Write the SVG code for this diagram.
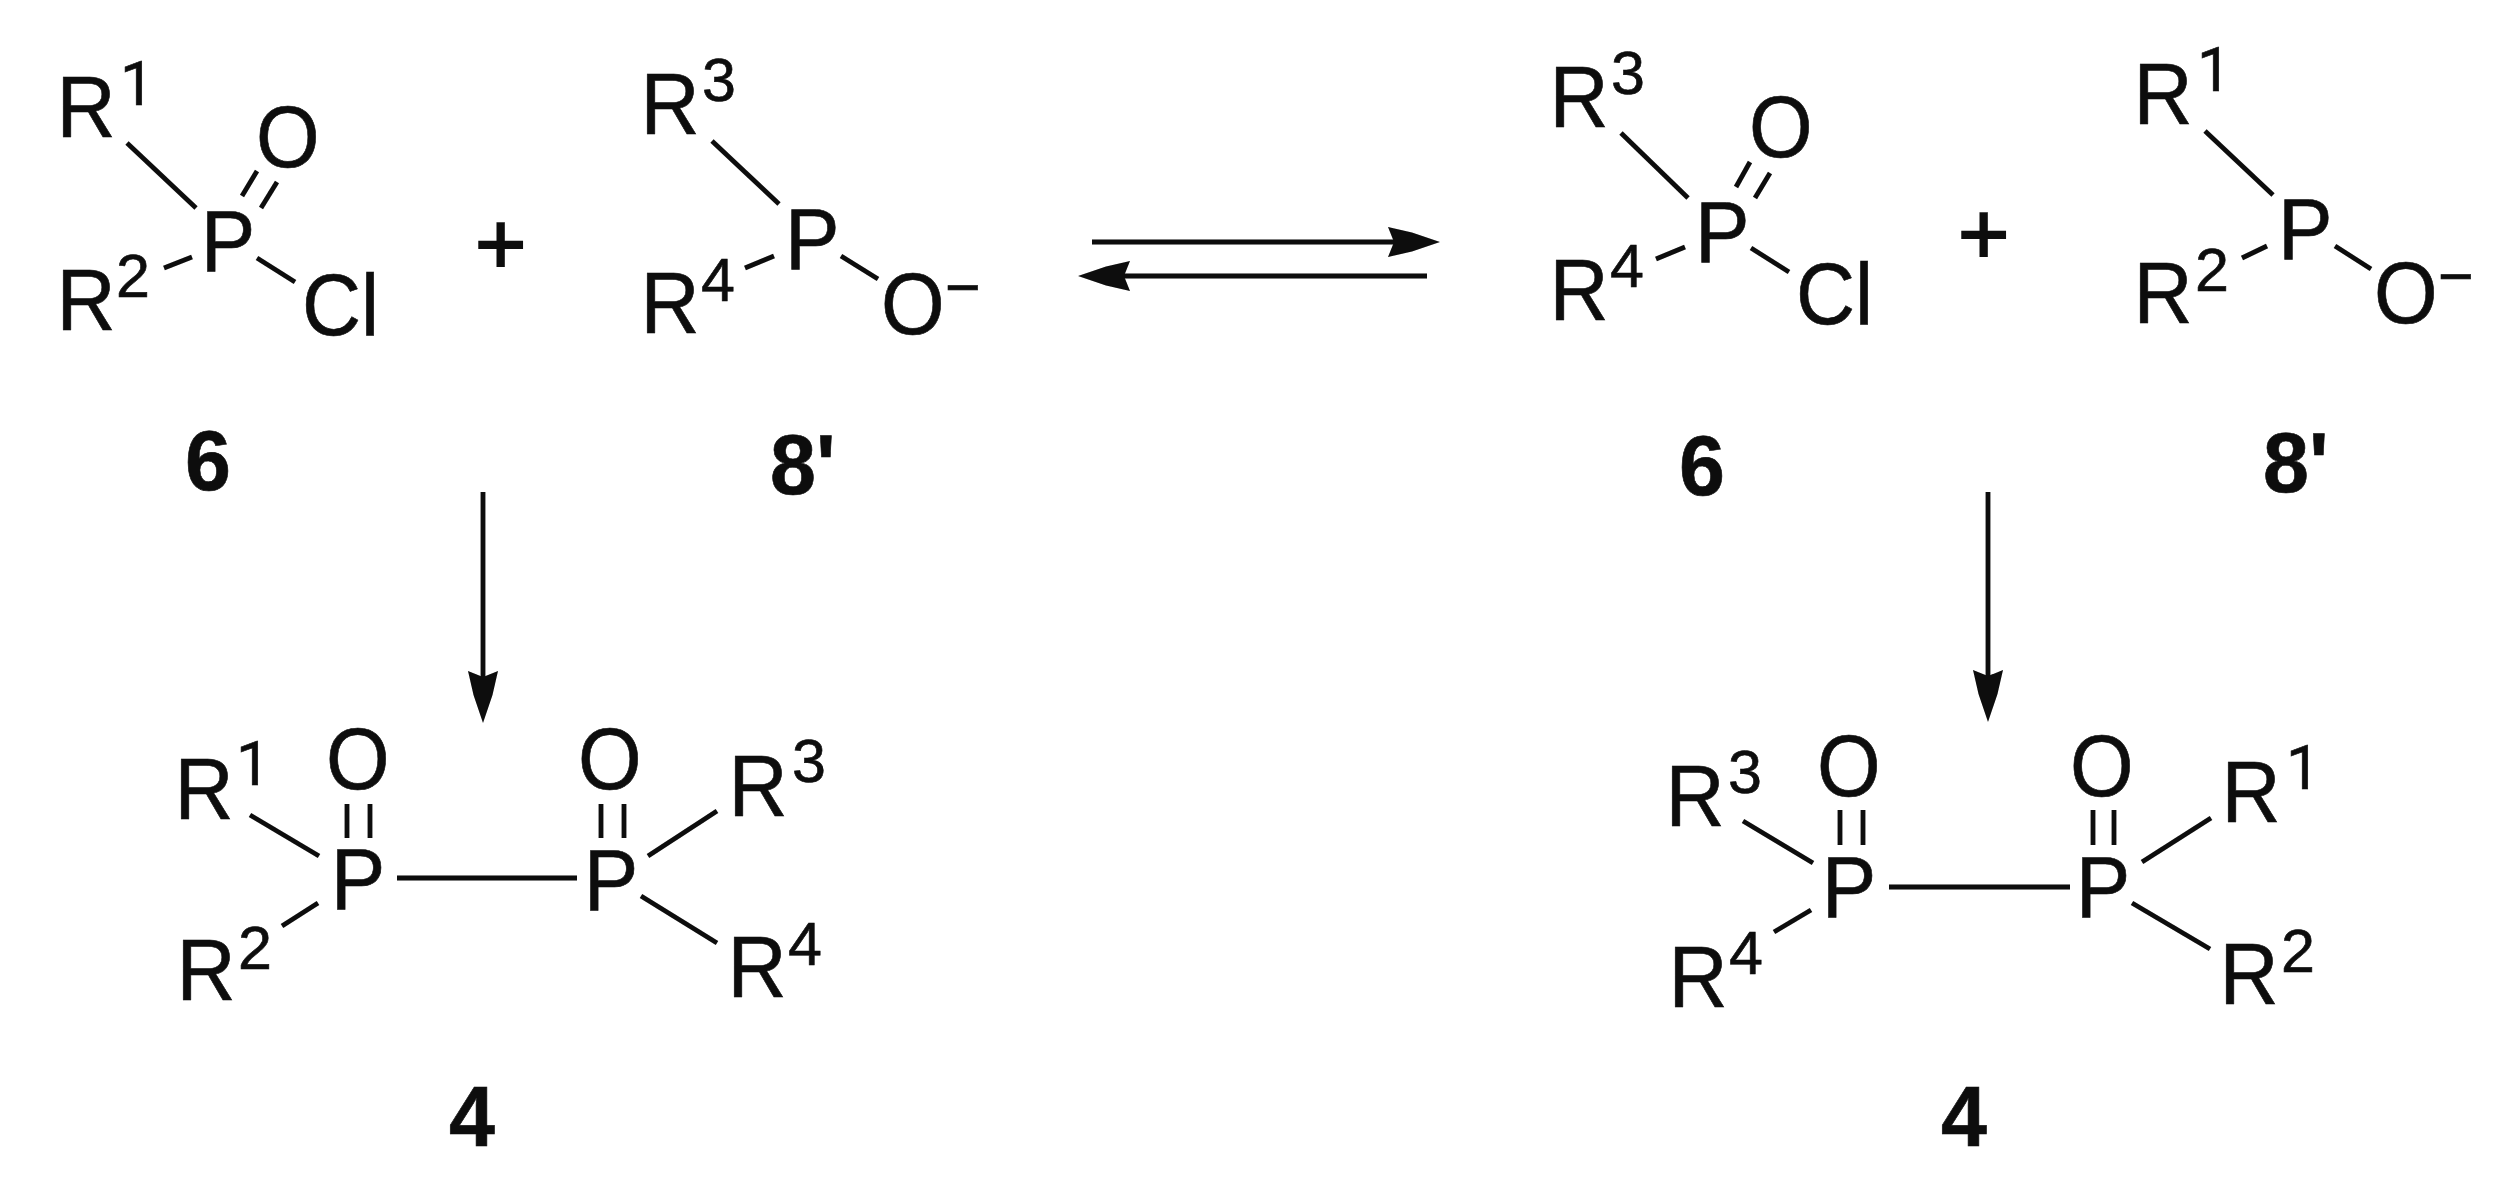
<svg xmlns="http://www.w3.org/2000/svg" width="2510" height="1192" viewBox="0 0 2510 1192">
<style>
text{font-family:"Liberation Sans",Arial,sans-serif;fill:#0a0a0a;stroke:#0a0a0a;stroke-width:.6}
.a{font-size:87px;transform-box:fill-box;transform-origin:left bottom;transform:scaleX(.94)}
.s{font-size:61px}
.o{font-size:61px;font-family:Roboto,"Liberation Sans",sans-serif}
.b{font-size:86px;font-weight:700;transform-box:fill-box;transform-origin:left bottom;transform:scaleX(.96)}
.p{font-size:88px;stroke-width:2}
line{stroke:#0a0a0a;stroke-width:4.8;fill:none}
</style>
<defs>
<filter id="soft" x="0" y="0" width="100%" height="100%"><feGaussianBlur stdDeviation="0.7"/></filter>
<marker id="head" markerUnits="userSpaceOnUse" viewBox="0 0 52 30" markerWidth="52" markerHeight="30" refX="10" refY="15" orient="auto"><path d="M0,0L24,5.500L52,15L24,24.500L0,30L6,15Z" fill="#0a0a0a"/></marker>
</defs>
<rect width="2510" height="1192" fill="#fff"/>
<g filter="url(#soft)">
<g id="m6a">
<text class="a" x="56.500" y="137">R</text><text class="o" x="120" y="105">1</text>
<text class="a" x="256" y="167">O</text>
<text class="a" x="200.800" y="271">P</text>
<text class="a" x="56.500" y="330">R</text><text class="s" x="116" y="297">2</text>
<text class="a" x="302" y="335">Cl</text>
<line x1="127" y1="143" x2="196" y2="208"/><line x1="257" y1="171" x2="242" y2="196"/><line x1="277" y1="182" x2="261" y2="208"/><line x1="164" y1="268" x2="192" y2="257"/><line x1="257" y1="258" x2="295" y2="282"/>
</g>
<text id="plus1" class="p" x="475" y="274">+</text>
<g id="m8a">
<text class="a" x="640.500" y="134">R</text><text class="s" x="702" y="101">3</text>
<text class="a" x="785" y="269">P</text>
<text class="a" x="640.500" y="333">R</text><text class="s" x="701" y="301">4</text>
<text class="a" x="881" y="334">O</text><text class="s" x="945" y="308">−</text>
<line x1="712" y1="141" x2="779" y2="204"/><line x1="745" y1="268" x2="774" y2="256"/><line x1="841" y1="256" x2="878" y2="279"/>
</g>
<text id="l6a" class="b" x="185" y="490">6</text>
<text id="l8a" class="b" x="770" y="494">8'</text>
<g id="m4a">
<text class="a" x="174.500" y="819">R</text><text class="o" x="236" y="785">1</text>
<text class="a" x="176.500" y="1000">R</text><text class="s" x="238" y="969">2</text>
<text class="a" x="326" y="789">O</text><text class="a" x="578" y="789">O</text>
<text class="a" x="330.800" y="909">P</text><text class="a" x="583.800" y="910">P</text>
<text class="a" x="728.500" y="816">R</text><text class="s" x="792" y="782">3</text>
<text class="a" x="727.500" y="997">R</text><text class="s" x="788" y="965">4</text>
<line x1="347" y1="804" x2="347" y2="838"/><line x1="370" y1="804" x2="370" y2="838"/><line x1="601" y1="804" x2="601" y2="838"/><line x1="624" y1="804" x2="624" y2="838"/>
<line x1="397" y1="878" x2="577" y2="878"/><line x1="250" y1="815" x2="319" y2="856"/><line x1="282" y1="926" x2="318" y2="903"/><line x1="717" y1="811" x2="648" y2="856"/><line x1="641" y1="896" x2="717" y2="943"/>
</g>
<text id="l4a" class="b" x="449" y="1146">4</text>
<g id="m6b">
<text class="a" x="1549.500" y="127">R</text><text class="s" x="1611" y="94">3</text>
<text class="a" x="1749" y="157">O</text>
<text class="a" x="1695" y="262">P</text>
<text class="a" x="1549.500" y="320">R</text><text class="s" x="1610" y="287">4</text>
<text class="a" x="1796" y="324">Cl</text>
<line x1="1621" y1="133" x2="1688" y2="198"/><line x1="1750" y1="162" x2="1736" y2="187"/><line x1="1770" y1="173" x2="1755" y2="198"/><line x1="1656" y1="259" x2="1685" y2="247"/><line x1="1751" y1="248" x2="1789" y2="272"/>
</g>
<text id="plus2" class="p" x="1958" y="264">+</text>
<g id="m8b">
<text class="a" x="2133.500" y="124">R</text><text class="o" x="2197" y="91">1</text>
<text class="a" x="2278" y="259">P</text>
<text class="a" x="2133.500" y="323">R</text><text class="s" x="2195" y="291">2</text>
<text class="a" x="2374" y="323">O</text><text class="s" x="2438" y="297">−</text>
<line x1="2205" y1="131" x2="2273" y2="195"/><line x1="2242" y1="258" x2="2267" y2="246"/><line x1="2335" y1="246" x2="2371" y2="269"/>
</g>
<text id="l6b" class="b" x="1679" y="495">6</text>
<text id="l8b" class="b" x="2263" y="492">8'</text>
<g id="m4b">
<text class="a" x="1665.500" y="826">R</text><text class="s" x="1728" y="793">3</text>
<text class="a" x="1668.500" y="1007">R</text><text class="s" x="1729" y="974">4</text>
<text class="a" x="1817" y="796">O</text><text class="a" x="2070" y="796">O</text>
<text class="a" x="1821.800" y="917">P</text><text class="a" x="2075.800" y="917">P</text>
<text class="a" x="2221.500" y="822">R</text><text class="o" x="2286" y="789">1</text>
<text class="a" x="2219.500" y="1004">R</text><text class="s" x="2281" y="972">2</text>
<line x1="1840" y1="810" x2="1840" y2="845"/><line x1="1863" y1="810" x2="1863" y2="845"/><line x1="2093" y1="810" x2="2093" y2="845"/><line x1="2114" y1="810" x2="2114" y2="845"/>
<line x1="1889" y1="887" x2="2070" y2="887"/><line x1="1743" y1="821" x2="1813" y2="863"/><line x1="1774" y1="932" x2="1811" y2="910"/><line x1="2211" y1="818" x2="2142" y2="862"/><line x1="2132" y1="903" x2="2210" y2="949"/>
</g>
<text id="l4b" class="b" x="1941" y="1146">4</text>
<g id="connectors">
<line x1="1092" y1="242" x2="1398" y2="242" marker-end="url(#head)"/>
<line x1="1427" y1="276" x2="1120" y2="276" marker-end="url(#head)"/>
<line x1="483" y1="492" x2="483" y2="681" marker-end="url(#head)"/>
<line x1="1988" y1="492" x2="1988" y2="680" marker-end="url(#head)"/>
</g>
</g>
</svg>
